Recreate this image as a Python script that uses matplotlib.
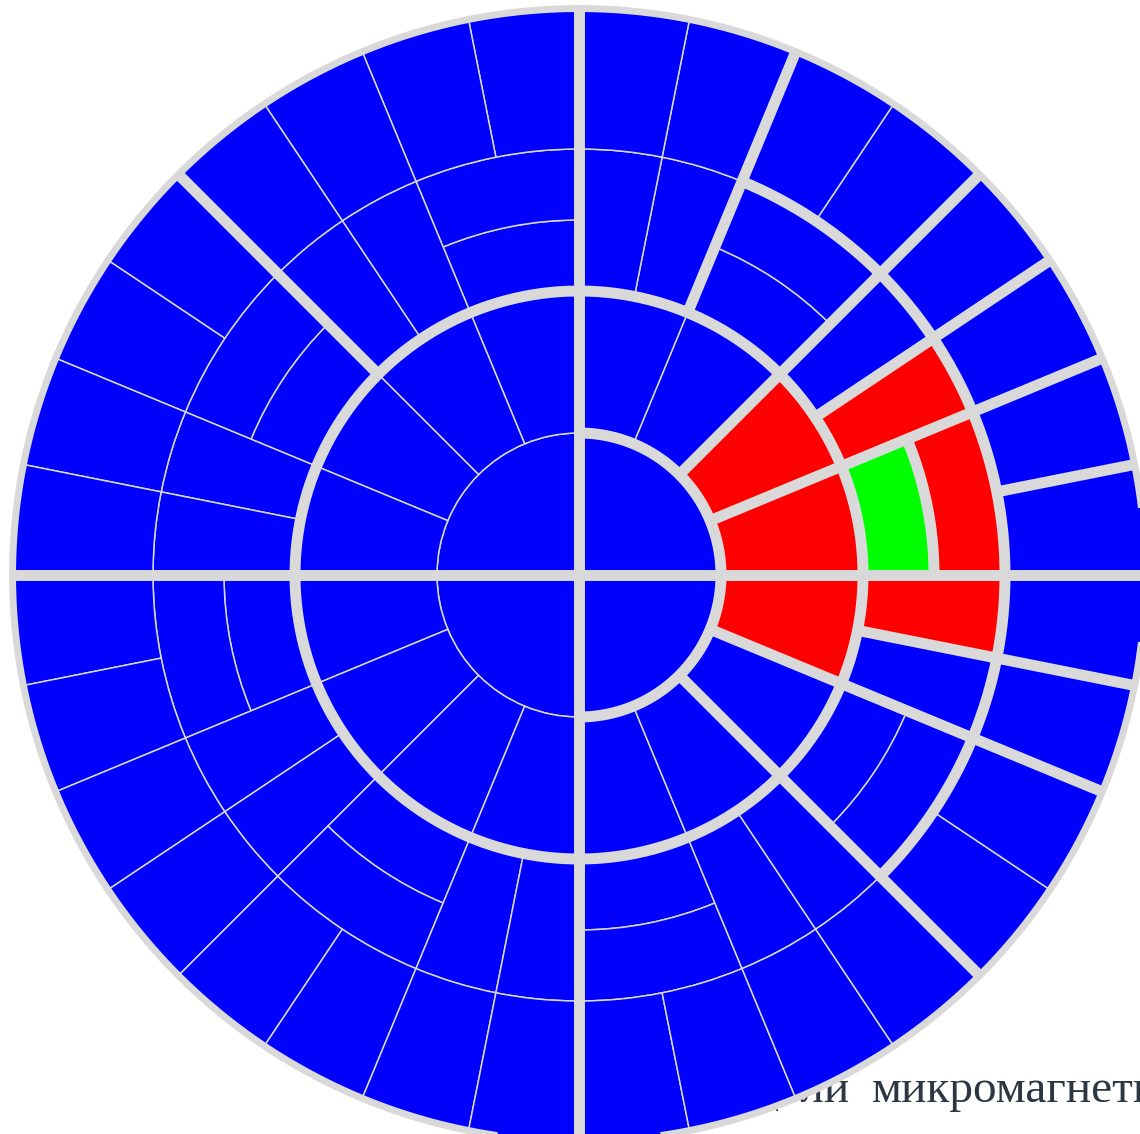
import numpy as np
import matplotlib
matplotlib.use("Agg")
import matplotlib.pyplot as plt

# ---- mesh description (radii in units, angles in degrees) ----
RING_EDGES = [0.0, 1.0, 2.0, 2.5, 3.0, 4.0]

# core: four quadrant cells, r 0..1
CORE_ANGLES = [0, 90, 180, 270, 360]

# band 1..2: sixteen sectors
BAND_B_ANGLES = [0, 22.5, 45, 67.5, 90, 112.5, 135, 157.5, 180,
                 202.5, 225, 247.5, 270, 292.5, 315, 337.5, 360]

# band 2..3: every 45 deg sector is split radially in its first half
# (at r = 2.5) and angularly in its second half
BAND_C_SECTORS = [0, 45, 90, 135, 180, 225, 270, 315]

# band 3..4: thirty-two sectors
BAND_D_ANGLES = [0, 11.25, 22.5, 33.75, 45, 56.25, 67.5, 78.75, 90,
                 101.25, 112.5, 123.75, 135, 146.25, 157.5, 168.75, 180,
                 191.25, 202.5, 213.75, 225, 236.25, 247.5, 258.75, 270,
                 281.25, 292.5, 303.75, 315, 326.25, 337.5, 348.75, 360]

# marked cells: (r_in, r_out, theta1, theta2)
RED_CELLS = [(1.0, 2.0, 0.0, 22.5), (1.0, 2.0, 22.5, 45.0),
             (1.0, 2.0, 337.5, 360.0), (2.0, 3.0, 22.5, 33.75),
             (2.5, 3.0, 0.0, 22.5), (2.0, 3.0, 348.75, 360.0)]
GREEN_CELLS = [(2.0, 2.5, 0.0, 22.5)]

# heavy grid lines
THICK_ARCS = [(1.0, -90.0, 90.0), (2.0, 0.0, 360.0),
              (2.5, 0.0, 22.5), (3.0, -45.0, 67.5)]
THICK_RAYS = [(0.0, 0.0, 4.0), (90.0, 0.0, 4.0), (180.0, 0.0, 4.0),
              (270.0, 0.0, 4.0), (45.0, 1.0, 4.0), (22.5, 1.0, 4.0),
              (-22.5, 1.0, 4.0), (-45.0, 1.0, 4.0), (67.5, 2.0, 4.0),
              (33.75, 2.0, 4.0), (-11.25, 2.0, 4.0), (11.25, 3.0, 4.0),
              (135.0, 2.0, 4.0)]
OUTER_RING = 3.989

CAPTION_LEFT = "модели"
CAPTION_RIGHT = "микромагнетизма"

BLUE, RED, GREEN, GRID = "#0000ff", "#ff0000", "#00ff00", "#d9d9d9"
THIN_LW, THICK_LW, RING_LW = 1.1, 7.9, 5.0


def build_cells():
    cells = []
    for a, b in zip(CORE_ANGLES[:-1], CORE_ANGLES[1:]):
        cells.append((RING_EDGES[0], RING_EDGES[1], a, b))
    for a, b in zip(BAND_B_ANGLES[:-1], BAND_B_ANGLES[1:]):
        cells.append((RING_EDGES[1], RING_EDGES[2], a, b))
    for s in BAND_C_SECTORS:
        cells.append((RING_EDGES[2], RING_EDGES[3], s, s + 22.5))
        cells.append((RING_EDGES[3], RING_EDGES[4], s, s + 22.5))
        cells.append((RING_EDGES[2], RING_EDGES[4], s + 22.5, s + 33.75))
        cells.append((RING_EDGES[2], RING_EDGES[4], s + 33.75, s + 45))
    for a, b in zip(BAND_D_ANGLES[:-1], BAND_D_ANGLES[1:]):
        cells.append((RING_EDGES[4], RING_EDGES[5], a, b))
    return cells


def cell_color(cell):
    if cell in GREEN_CELLS:
        return GREEN
    if cell in RED_CELLS:
        return RED
    return BLUE


W, H = 1140, 1134
CX, CY = 579, 575          # disc centre in pixels
UNIT = 142.0               # pixels per radial unit
R_AX = 575                 # axes radius in pixels

fig = plt.figure(figsize=(W / 100, H / 100), dpi=100)
fig.patch.set_facecolor("white")

ax = fig.add_axes([(CX - R_AX) / W, (H - CY - R_AX) / H,
                   2 * R_AX / W, 2 * R_AX / H], projection="polar")
ax.set_ylim(0, R_AX / UNIT)
ax.set_axis_off()

for cell in build_cells():
    r0, r1, t0, t1 = cell
    ax.bar(np.deg2rad((t0 + t1) / 2), r1 - r0, width=np.deg2rad(t1 - t0),
           bottom=r0, align="center", color=cell_color(cell),
           edgecolor=GRID, linewidth=THIN_LW, zorder=1)

for r, t0, t1 in THICK_ARCS:
    th = np.deg2rad(np.linspace(t0, t1, 400))
    ax.plot(th, np.full_like(th, r), color=GRID, lw=THICK_LW,
            solid_capstyle="butt", zorder=3)

for t, r0, r1 in THICK_RAYS:
    ax.plot([np.deg2rad(t)] * 2, [r0, r1], color=GRID, lw=THICK_LW,
            solid_capstyle="butt", zorder=3)

th = np.linspace(0, 2 * np.pi, 720)
ax.plot(th, np.full_like(th, OUTER_RING), color=GRID, lw=RING_LW, zorder=4)

# caption running underneath the disc
fig.text(850 / W, 1 - 1102 / H, CAPTION_LEFT, ha="right", va="baseline",
         fontsize=34, family="Liberation Serif", color="#2d3743", zorder=-1)
fig.text(872 / W, 1 - 1102 / H, CAPTION_RIGHT, ha="left", va="baseline",
         fontsize=34, family="Liberation Serif", color="#2d3743", zorder=-1)

fig.savefig("out.png", dpi=100)
